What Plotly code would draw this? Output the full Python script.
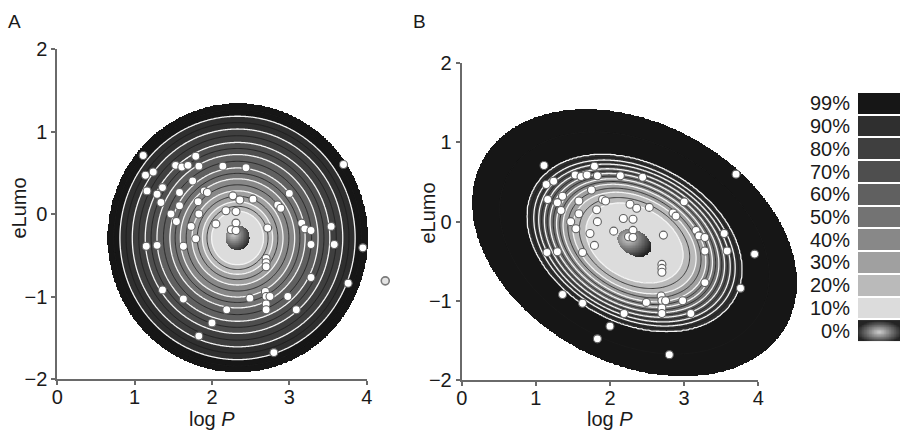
import numpy as np
import plotly.graph_objects as go

# ---------------- data ----------------
log_p = [1.11, 1.14, 1.24, 1.16, 1.29, 1.36, 1.34, 1.53, 1.61, 1.69, 1.79, 1.83, 1.75,
         1.58, 1.58, 1.47, 1.54, 1.82, 1.90, 1.94, 1.83, 1.73, 1.79, 1.63, 1.15, 1.29,
         2.14, 2.44, 2.27, 2.36, 2.53, 2.18, 2.31, 2.05, 2.31, 2.25, 2.31, 2.72, 2.85,
         2.89, 3.00, 3.16, 3.20, 3.28, 3.28, 3.54, 3.58, 3.70, 3.95, 3.76, 3.28, 2.70,
         2.70, 2.70, 2.69, 2.70, 2.75, 2.70, 2.70, 2.49, 2.98, 3.09, 2.19, 2.00, 1.83,
         1.63, 1.36, 2.80]
e_lumo = [0.71, 0.47, 0.51, 0.28, 0.24, 0.32, 0.14, 0.59, 0.57, 0.59, 0.70, 0.58, 0.40,
          0.26, 0.10, 0.00, -0.09, 0.15, 0.28, 0.26, 0.00, -0.15, -0.30, -0.39, -0.39, -0.38,
          0.58, 0.56, 0.22, 0.17, 0.18, 0.04, 0.03, -0.12, -0.11, -0.19, -0.20, -0.17, 0.11,
          0.07, 0.25, -0.11, -0.18, -0.20, -0.37, -0.15, -0.37, 0.60, -0.41, -0.84, -0.77, -0.54,
          -0.59, -0.64, -0.94, -1.00, -1.00, -1.09, -1.16, -1.02, -1.00, -1.16, -1.16, -1.32, -1.48,
          -1.03, -0.92, -1.68]
outlier_log_p = [4.24]
outlier_e_lumo = [-0.81]

level_labels = ["0%", "10%", "20%", "30%", "40%", "50%", "60%", "70%", "80%", "90%", "99%"]
level_colors = ["#dcdcdc", "#bababa", "#a0a0a0", "#888888", "#737373",
                "#606060", "#4e4e4e", "#3f3f3f", "#2f2f2f", "#161616"]

# probability-region models (centre, spread at the 99% boundary, correlation, band radii)
center_a = (2.33, -0.29)
spread_a = (1.68, 1.63)
corr_a = 0.0
radii_a = [0.092, 0.20, 0.27, 0.35, 0.44, 0.52, 0.62, 0.71, 0.81, 0.905, 1.0]

center_b = (2.33, -0.27)
spread_b = (2.19, 1.69)
corr_b = -0.30
radii_b = [0.104, 0.30, 0.38, 0.44, 0.48, 0.52, 0.555, 0.59, 0.62, 0.66, 1.0]

# ---------------- helpers ----------------
colorscale = [[0.0, "#d2d2d2"], [0.022, "#7a7a7a"], [0.045, "#242424"]]
for i, c in enumerate(level_colors):
    colorscale.append([(i + 1) / 10, c])


def region_fields(center, spread, corr, radii, xs, ys):
    X, Y = np.meshgrid(xs, ys)
    du = (X - center[0]) / spread[0]
    dv = (Y - center[1]) / spread[1]
    rho = np.sqrt((du ** 2 - 2 * corr * du * dv + dv ** 2) / (1 - corr ** 2))
    band = np.searchsorted(np.array(radii), rho).astype(float)
    z = band.copy()
    z[band > 10] = np.nan
    rb = radii[0]
    d = np.sqrt((du + 0.35 * rb) ** 2 + (dv - 0.3 * rb) ** 2) / (1.45 * rb)
    inside = band == 0
    z[inside] = 0.45 * np.clip(d[inside], 0, 1)
    b = np.interp(rho, radii, np.arange(len(radii)))
    return z, b


def add_panel(fig, center, spread, corr, radii, xr, yr, xa, ya):
    xs = np.arange(xr[0], xr[1], 0.008)
    ys = np.arange(yr[0], yr[1], 0.008)
    z, _ = region_fields(center, spread, corr, radii, xs, ys)
    fig.add_trace(go.Heatmap(x=xs, y=ys, z=z, colorscale=colorscale, zmin=0, zmax=10,
                             zsmooth=False, showscale=False, hoverinfo="skip",
                             xaxis=xa, yaxis=ya))
    xs2 = np.arange(xr[0], xr[1], 0.015)
    ys2 = np.arange(yr[0], yr[1], 0.015)
    _, b = region_fields(center, spread, corr, radii, xs2, ys2)
    fig.add_trace(go.Contour(x=xs2, y=ys2, z=b,
                             contours=dict(start=1.5, end=9.5, size=1, coloring="none"),
                             line=dict(color="#1c1c1c", width=0.8, smoothing=1),
                             showscale=False, hoverinfo="skip", xaxis=xa, yaxis=ya))
    fig.add_trace(go.Contour(x=xs2, y=ys2, z=b,
                             contours=dict(start=1, end=9, size=1, coloring="none"),
                             line=dict(color="#f4f4f4", width=1.3, smoothing=1),
                             showscale=False, hoverinfo="skip", xaxis=xa, yaxis=ya))
    fig.add_trace(go.Scatter(x=log_p, y=e_lumo, mode="markers",
                             marker=dict(size=8, color="white",
                                         line=dict(color="#606060", width=1.1)),
                             cliponaxis=False, hoverinfo="skip", xaxis=xa, yaxis=ya))


W, H = 900, 431
fig = go.Figure()

# panel A data axes (x / y), panel B data axes (x2 / y2)
add_panel(fig, center_a, spread_a, corr_a, radii_a, (0.5, 4.2), (-2.0, 1.5), "x", "y")
fig.add_trace(go.Scatter(x=outlier_log_p, y=outlier_e_lumo, mode="markers",
                         marker=dict(size=8, color="#e4e4e4", line=dict(color="#7a7a7a", width=1.6)),
                         cliponaxis=False, hoverinfo="skip", xaxis="x", yaxis="y"))
add_panel(fig, center_b, spread_b, corr_b, radii_b, (0.0, 4.8), (-2.0, 1.5), "x2", "y2")

# empty traces so the visible axes frames get drawn
fig.add_trace(go.Scatter(x=[], y=[], mode="markers", hoverinfo="skip", xaxis="x3", yaxis="y3"))
fig.add_trace(go.Scatter(x=[], y=[], mode="markers", hoverinfo="skip", xaxis="x4", yaxis="y4"))

# legend key
fig.add_trace(go.Heatmap(x=[0], y=list(range(1, 11)), z=[[k] for k in range(1, 11)],
                         colorscale=colorscale, zmin=0, zmax=10, ygap=2, showscale=False,
                         hoverinfo="skip", xaxis="x5", yaxis="y5"))
kx = np.linspace(-0.5, 0.5, 60)
ky = np.linspace(-0.45, 0.45, 30)
KX, KY = np.meshgrid(kx, ky)
kz = 0.45 * np.clip(np.sqrt((KX / 0.55) ** 2 + ((KY + 0.05) / 0.5) ** 2), 0, 1)
fig.add_trace(go.Heatmap(x=kx, y=ky, z=kz, colorscale=colorscale, zmin=0, zmax=10,
                         zsmooth="best", showscale=False, hoverinfo="skip",
                         xaxis="x5", yaxis="y5"))

# pixel geometry
ax_a = dict(x0=57.3, x1=366.7, y0=49.0, y1=379.0)
ax_b = dict(x0=461.7, x1=758.3, y0=63.3, y1=380.0)
sa = (ax_a["x1"] - ax_a["x0"]) / 4
sb = (ax_b["x1"] - ax_b["x0"]) / 4


def px(v):
    return v / W


def py(v):
    return (H - v) / H


font = "Liberation Sans, Arial, sans-serif"
tick_font = dict(family=font, size=20, color="#1a1a1a")
vis_x = dict(range=[0, 4], tickvals=[0, 1, 2, 3, 4], showline=True, linecolor="#6a6a6a",
             linewidth=2, ticks="outside", ticklen=4, tickwidth=1.5, tickcolor="#6a6a6a",
             showgrid=False, zeroline=False, tickfont=tick_font, fixedrange=True,
             automargin=False, ticklabelstandoff=-5)
vis_y = dict(range=[-2, 2], tickvals=[-2, -1, 0, 1, 2], showline=True, linecolor="#6a6a6a",
             linewidth=2, ticks="outside", ticklen=4, tickwidth=1.5, tickcolor="#6a6a6a",
             showgrid=False, zeroline=False, tickfont=tick_font, fixedrange=True,
             automargin=False)

fig.update_layout(
    width=W, height=H, autosize=False,
    margin=dict(l=0, r=0, t=0, b=0, pad=0, autoexpand=False),
    paper_bgcolor="white", plot_bgcolor="rgba(0,0,0,0)",
    showlegend=False,
    # data axes (hidden)
    xaxis=dict(visible=False, range=[0, 4.5], domain=[px(ax_a["x0"]), px(ax_a["x0"] + 4.5 * sa)],
               anchor="y", fixedrange=True, automargin=False),
    yaxis=dict(visible=False, range=[-2, 2], domain=[py(ax_a["y1"]), py(ax_a["y0"])],
               anchor="x", fixedrange=True, automargin=False),
    xaxis2=dict(visible=False, range=[0, 4.8], domain=[px(ax_b["x0"]), px(ax_b["x0"] + 4.8 * sb)],
                anchor="y2", fixedrange=True, automargin=False),
    yaxis2=dict(visible=False, range=[-2, 2], domain=[py(ax_b["y1"]), py(ax_b["y0"])],
                anchor="x2", fixedrange=True, automargin=False),
    # visible axes
    xaxis3=dict(vis_x, domain=[px(ax_a["x0"]), px(ax_a["x1"])], anchor="y3"),
    yaxis3=dict(vis_y, domain=[py(ax_a["y1"]), py(ax_a["y0"])], anchor="x3"),
    xaxis4=dict(vis_x, domain=[px(ax_b["x0"]), px(ax_b["x1"])], anchor="y4"),
    yaxis4=dict(vis_y, domain=[py(ax_b["y1"]), py(ax_b["y0"])], anchor="x4"),
    # legend key axes
    xaxis5=dict(visible=False, range=[-0.5, 0.5], domain=[px(858), 1.0], anchor="y5",
                fixedrange=True, automargin=False),
    yaxis5=dict(range=[-0.5, 10.5], tickvals=list(range(11)), ticktext=level_labels,
                domain=[py(342), py(92)], anchor="x5", showline=False, showgrid=False,
                zeroline=False, ticks="outside", ticklen=3, tickcolor="rgba(0,0,0,0)",
                tickfont=dict(family=font, size=20, color="#1a1a1a"), fixedrange=True,
                automargin=False),
)

ann_font = dict(family=font, size=20, color="#1a1a1a")
annotations = [
    dict(text="A", x=px(14.5), y=py(21.5), font=dict(family=font, size=19, color="#1a1a1a")),
    dict(text="B", x=px(419), y=py(21.5), font=dict(family=font, size=19, color="#1a1a1a")),
    dict(text="eLumo", x=px(18.5), y=py(208), textangle=-90, font=ann_font),
    dict(text="eLumo", x=px(427), y=py(213.5), textangle=-90, font=ann_font),
    dict(text="log <i>P</i>", x=px((ax_a["x0"] + ax_a["x1"]) / 2), y=py(419), font=ann_font),
    dict(text="log <i>P</i>", x=px((ax_b["x0"] + ax_b["x1"]) / 2), y=py(419), font=ann_font),
]
for a in annotations:
    a.update(xref="paper", yref="paper", showarrow=False, xanchor="center", yanchor="middle")
fig.update_layout(annotations=annotations)

fig.write_html("out.html")
